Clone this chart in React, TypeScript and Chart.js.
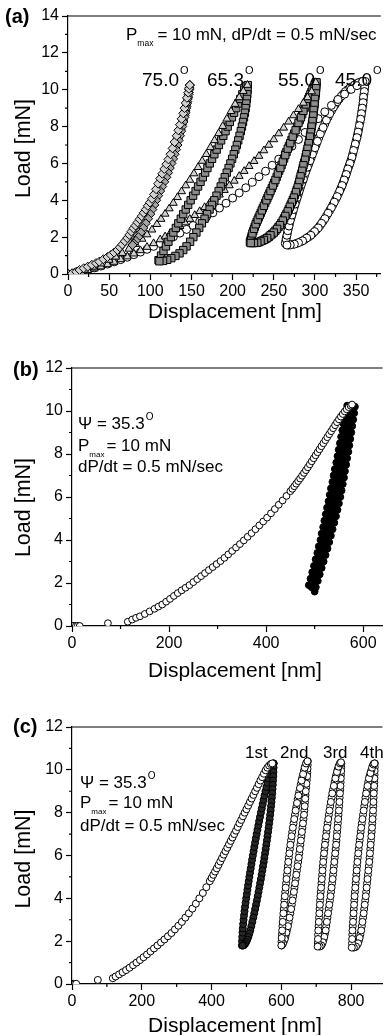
import React, { useEffect, useRef } from "react";
import { Chart, registerables } from "chart.js";

Chart.register(...registerables);

type Pt = [number, number];

const FONT = "'Liberation Sans', Arial, Helvetica, sans-serif";

// ---------------- Panel (a) ----------------
const aXTicks = [0, 50, 100, 150, 200, 250, 300, 350];
const aXMinor = [25, 75, 125, 175, 225, 275, 325, 375];
const aYTicks = [0, 2, 4, 6, 8, 10, 12, 14];
const aYMinor = [1, 3, 5, 7, 9, 11, 13];
const aAngleLabels = ["75.0", "65.3", "55.0", "45.0"];

const a75Load: Pt[] = [[0,0],[5,0.04],[10,0.12],[14,0.22],[19,0.31],[24,0.4],[29,0.5],[34,0.59],[38,0.67],[43,0.8],[48,0.92],[52,1.03],[56,1.16],[60,1.3],[63,1.45],[66,1.6],[69,1.78],[72,1.95],[74.5,2.12],[77,2.3],[79.5,2.48],[82,2.63],[84.5,2.8],[87,2.97],[89.5,3.14],[92,3.32],[94.5,3.5],[97,3.7],[99.5,3.88],[102,4.08],[104.5,4.32],[107,4.6],[109.5,4.9],[112,5.18],[114.5,5.44],[117,5.7],[119.5,5.96],[122,6.22],[124.5,6.5],[127,6.82],[129.5,7.16],[132,7.5],[134,7.8],[136,8.1],[138,8.42],[140,8.72],[141.5,9.0],[143,9.28],[144.5,9.56],[146,9.84],[147,10.05],[148,10.25]];
const a75Unload: Pt[] = [[148,10.25],[147.3,10.0],[146.5,9.75],[145.5,9.5],[144.6,9.25],[143.6,9.0],[142.7,8.75],[141.5,8.5],[140.2,8.25],[138.8,8.0],[137.5,7.75],[136,7.5],[134.5,7.25],[133,7.0],[131.3,6.75],[129.6,6.5],[127.8,6.25],[125.8,6.0],[123.7,5.75],[121.6,5.5],[119.5,5.25],[117,5.0],[114.5,4.75],[112,4.5],[109.5,4.25],[107.2,4.0],[105,3.75],[102.5,3.5],[100,3.25],[97.3,3.0],[94.5,2.75],[91.5,2.5],[88.5,2.25],[85.5,2.0],[82.5,1.8],[80,1.65],[78.5,1.57]];
const a75Reload: Pt[] = [[79,1.62],[81.5,1.85],[84.5,2.1],[87.5,2.35],[90.5,2.6],[93.5,2.85],[96,3.1],[98.5,3.35],[101,3.6],[103.5,3.85],[106,4.1],[108.5,4.35],[111,4.6],[113,4.85],[115.5,5.1],[117.5,5.35],[119.5,5.6],[121.5,5.85],[123.5,6.1],[125.5,6.35],[127.5,6.6],[129.5,6.85],[131.5,7.1],[133.3,7.35],[135,7.6],[136.8,7.85],[138.5,8.1],[140,8.35],[141.5,8.6],[142.8,8.85],[144,9.1],[145,9.35],[146,9.6],[146.8,9.85],[147.5,10.1],[148,10.25]];

const a65Load: Pt[] = [[0,0],[10,0.08],[20,0.22],[30,0.38],[40,0.56],[50,0.76],[58,0.93],[66,1.13],[74,1.36],[82,1.62],[90,1.9],[96,2.14],[102,2.4],[108,2.7],[113,2.98],[118,3.26],[123,3.55],[128,3.85],[133,4.16],[138,4.48],[143,4.8],[148,5.1],[153,5.45],[158,5.79],[163,6.13],[168,6.5],[173,6.87],[178,7.25],[183,7.63],[188,8.02],[193,8.42],[198,8.83],[203,9.22],[208,9.58],[213,9.92],[218,10.25]];
const a65Unload: Pt[] = [[218.5,10.25],[218.2,10.0],[217.8,9.75],[217.3,9.5],[216.6,9.25],[215.8,9.0],[214.9,8.75],[213.8,8.5],[212.6,8.25],[211.3,8.0],[209.9,7.75],[208.4,7.5],[206.8,7.25],[205.1,7.0],[203.3,6.75],[201.4,6.5],[199.4,6.25],[197.3,6.0],[195.1,5.75],[192.8,5.5],[190.4,5.25],[188,5.0],[185.5,4.75],[183,4.5],[180.4,4.25],[177.7,4.0],[174.9,3.75],[172,3.5],[169,3.25],[165.9,3.0],[162.7,2.75],[159.4,2.5],[156,2.25],[152.3,2.0],[148.3,1.75],[144,1.5],[140,1.3],[135.5,1.12],[130.5,0.98],[125.5,0.86],[120.5,0.77],[115.5,0.71],[111,0.69]];
const a65Reload: Pt[] = [[110,0.75],[113,1.0],[116,1.25],[119,1.5],[122,1.75],[125,2.0],[128,2.25],[131,2.5],[134,2.75],[137,3.0],[140,3.25],[143,3.5],[146,3.75],[149,4.0],[152,4.25],[155,4.5],[158,4.75],[161,5.0],[163.8,5.25],[166.6,5.5],[169.4,5.75],[172.2,6.0],[175,6.25],[177.8,6.5],[180.6,6.75],[183.3,7.0],[186,7.25],[188.7,7.5],[191.4,7.75],[194,8.0],[196.6,8.25],[199.2,8.5],[201.8,8.75],[204.3,9.0],[206.8,9.25],[209.3,9.5],[211.8,9.75],[214,10.0],[216.5,10.2]];

const a55Load: Pt[] = [[0,0],[8,0.05],[16,0.11],[24,0.2],[32,0.29],[40,0.4],[48,0.52],[56,0.65],[64,0.79],[72,0.94],[80,1.1],[88,1.28],[96,1.46],[104,1.66],[112,1.87],[118,2.03],[124,2.2],[130,2.4],[136,2.59],[142,2.79],[148,2.98],[154,3.19],[160,3.4],[166,3.62],[172,3.85],[178,4.07],[184,4.3],[190,4.55],[196,4.8],[202,5.05],[208,5.31],[214,5.58],[220,5.85],[226,6.12],[232,6.4],[238,6.7],[244,7.0],[250,7.3],[256,7.62],[262,7.93],[268,8.26],[274,8.6],[280,8.94],[286,9.28],[291,9.58],[296,9.9],[301,10.4]];
const a55Unload: Pt[] = [[302,10.4],[301.5,10.1],[301,9.8],[300,9.5],[299.5,9.2],[298.5,8.9],[298,8.6],[297,8.3],[296,8.0],[295,7.7],[294,7.45],[292.5,7.1],[291,6.8],[289.5,6.5],[288,6.2],[286,5.9],[284.5,5.6],[282.5,5.3],[281,5.0],[279,4.7],[277,4.45],[274.5,4.15],[272,3.9],[269.5,3.65],[267,3.4],[264,3.15],[261,2.9],[257.5,2.65],[254,2.45],[250,2.25],[246,2.1],[242,1.95],[238,1.85],[234,1.77],[230,1.7],[226,1.68],[222,1.68]];
const a55UnloadB: Pt[] = [[301.7,10.25],[301.2,9.95],[300.5,9.65],[299.7,9.35],[299,9.05],[298.2,8.75],[297.5,8.45],[296.5,8.15],[295.5,7.85],[294.5,7.57],[293.2,7.27],[291.7,6.95],[290.2,6.65],[288.7,6.35],[287,6.05],[285.2,5.75],[283.5,5.45],[281.7,5.15],[280,4.85],[278,4.57],[275.7,4.3],[273.2,4.02],[270.7,3.77],[268.2,3.52],[265.5,3.27],[262.5,3.02],[259.2,2.77],[255.7,2.55],[252,2.35],[248,2.17],[244,2.02],[240,1.9],[236,1.81],[232,1.73],[228,1.69],[224,1.68]];
const a55Reload: Pt[] = [[221,1.72],[222.5,1.95],[224,2.2],[226,2.45],[228,2.7],[230.5,2.95],[233,3.2],[235.5,3.45],[238,3.7],[241,4.0],[243.5,4.25],[246,4.5],[249,4.8],[252,5.1],[255,5.45],[258,5.75],[261,6.1],[264,6.45],[267,6.8],[270,7.1],[273,7.45],[276.5,7.8],[280,8.2],[283,8.5],[286,8.85],[289,9.2],[292,9.5],[294.5,9.75],[297,10.0],[299.5,10.25],[301,10.4]];
const a55ReloadB: Pt[] = [[221.7,1.83],[223.2,2.07],[225,2.32],[227,2.57],[229.2,2.82],[231.7,3.07],[234.2,3.32],[236.7,3.57],[239.5,3.85],[242.2,4.12],[244.7,4.37],[247.5,4.65],[250.5,4.95],[253.5,5.27],[256.5,5.6],[259.5,5.92],[262.5,6.27],[265.5,6.62],[268.5,6.95],[271.5,7.27],[274.7,7.62],[278.2,8.0],[281.5,8.35],[284.5,8.67],[287.5,9.02],[290.5,9.35],[293.2,9.62],[295.7,9.87],[298.2,10.12],[300.2,10.32]];

const a45Load: Pt[] = [[0,0],[8,0.06],[16,0.14],[24,0.23],[32,0.33],[40,0.43],[48,0.54],[56,0.66],[64,0.78],[72,0.91],[80,1.05],[88,1.19],[96,1.34],[104,1.5],[112,1.66],[120,1.84],[128,2.02],[136,2.22],[144,2.42],[152,2.63],[160,2.85],[168,3.08],[176,3.32],[184,3.58],[192,3.84],[200,4.12],[208,4.4],[216,4.68],[224,4.98],[232,5.28],[240,5.58],[248,5.9],[256,6.23],[264,6.58],[272,6.93],[280,7.3],[288,7.68],[296,8.06],[304,8.43],[312,8.8],[320,9.15],[328,9.47],[336,9.76],[344,10.02],[351,10.22],[358,10.45]];
const a45Unload: Pt[] = [[361,10.45],[360.5,10.15],[360,9.9],[359,9.6],[358.5,9.3],[357.5,9.0],[356.5,8.7],[355.5,8.4],[354,8.05],[352.5,7.7],[351,7.4],[349,7.05],[347,6.7],[345,6.35],[342.5,6.0],[340,5.7],[338,5.4],[335.5,5.1],[333,4.8],[330,4.5],[327,4.2],[323.5,3.9],[320,3.6],[316,3.3],[312,3.0],[308,2.75],[304,2.5],[299.5,2.3],[295,2.1],[290,1.95],[285,1.8],[280,1.7],[275,1.62],[270,1.58],[266,1.57]];
const a45UnloadB: Pt[] = [[360.7,10.3],[360.2,10.02],[359.5,9.75],[358.7,9.45],[358,9.15],[357,8.85],[356,8.55],[354.7,8.22],[353.2,7.87],[351.7,7.55],[350,7.22],[348,6.87],[346,6.52],[343.7,6.17],[341.2,5.85],[339,5.55],[336.7,5.25],[334.2,4.95],[331.5,4.65],[328.5,4.35],[325.2,4.05],[321.7,3.75],[318,3.45],[314,3.15],[310,2.87],[306,2.62],[301.7,2.4],[297.2,2.2],[292.5,2.02],[287.5,1.87],[282.5,1.75],[277.5,1.66],[272.5,1.6],[268,1.57]];
const a45Reload: Pt[] = [[264,1.65],[265,1.9],[266,2.1],[267,2.35],[268.5,2.6],[270,2.9],[272,3.2],[274,3.5],[276,3.8],[278.5,4.15],[281,4.5],[283.5,4.85],[286,5.15],[288.5,5.5],[291,5.8],[294,6.15],[297,6.5],[300,6.85],[303,7.2],[306.5,7.6],[310,7.95],[314,8.35],[318,8.7],[322.5,9.05],[327,9.35],[332,9.65],[337,9.9],[342.5,10.1],[348,10.25],[353,10.38],[358,10.45]];
const a45ReloadB: Pt[] = [[264.5,1.77],[265.5,2.0],[266.5,2.22],[267.7,2.47],[269.2,2.75],[271,3.05],[273,3.35],[275,3.65],[277.2,3.97],[279.7,4.32],[282.2,4.67],[284.7,5.0],[287.2,5.32],[289.7,5.65],[292.5,5.97],[295.5,6.32],[298.5,6.67],[301.5,7.02],[304.7,7.4],[308.2,7.77],[312,8.15],[316,8.52],[320.2,8.87],[324.7,9.2],[329.5,9.5],[334.5,9.77],[339.7,10.0],[345.2,10.17],[350.5,10.31],[355.5,10.42]];

// ---------------- Panel (b) ----------------
const bXTicks = [0, 200, 400, 600];
const bXMinor = [100, 300, 500];
const bYTicks = [0, 2, 4, 6, 8, 10, 12];
const bYMinor = [1, 3, 5, 7, 9, 11];

const bLoad: Pt[] = [[0,0],[4,0.01],[8,0],[12,0.01],[16,0],[74,0.13],[115,0.2],[124,0.3],[132,0.38],[140,0.45],[150,0.56],[160,0.68],[170,0.8],[178,0.9],[186,1.0],[194,1.13],[202,1.26],[210,1.4],[218,1.53],[226,1.66],[234,1.78],[242,1.9],[250,2.04],[258,2.18],[266,2.32],[274,2.46],[282,2.6],[290,2.74],[298,2.88],[306,3.02],[314,3.17],[322,3.33],[330,3.49],[338,3.65],[346,3.81],[354,3.98],[362,4.15],[370,4.32],[378,4.5],[386,4.68],[394,4.86],[402,5.04],[410,5.24],[418,5.44],[426,5.64],[434,5.84],[442,6.05],[450,6.27],[454,6.38],[458,6.5],[462,6.62],[466,6.74],[470,6.86],[474,6.99],[478,7.12],[482,7.25],[486,7.38],[490,7.52],[494,7.66],[498,7.8],[502,7.94],[506,8.08],[510,8.22],[514,8.36],[518,8.5],[522,8.64],[526,8.78],[530,8.92],[534,9.06],[538,9.2],[542,9.34],[546,9.48],[550,9.61],[554,9.74],[558,9.86],[562,9.98],[566,10.08],[570,10.18],[574,10.25],[577,10.3]];
const bUnloadOuter: Pt[] = [[583,10.2],[581.5,9.9],[579.5,9.6],[577.5,9.3],[575.5,9.0],[573.5,8.7],[571.5,8.4],[569.5,8.1],[567,7.8],[565,7.5],[562.5,7.2],[560.5,6.9],[558,6.6],[555.5,6.3],[553,6.0],[550,5.7],[547,5.4],[544,5.1],[540.5,4.8],[537,4.5],[533.5,4.2],[530,3.9],[526.5,3.6],[522.5,3.3],[518.5,3.0],[514.5,2.7],[510.5,2.4],[506.5,2.1],[502.5,1.8],[500,1.6]];
const bUnloadInner: Pt[] = [[578,10.2],[576.5,9.9],[574.5,9.6],[572.5,9.3],[570.5,9.0],[568,8.7],[566,8.4],[563.5,8.1],[561,7.8],[558.5,7.5],[556,7.2],[553.5,6.9],[551,6.6],[548.5,6.3],[546,6.0],[543,5.7],[540,5.4],[537,5.1],[534,4.8],[530.5,4.5],[527,4.2],[523.5,3.9],[520,3.6],[516,3.3],[512,3.0],[508,2.7],[504,2.4],[500,2.1],[496,1.85]];
const bReloadOuter: Pt[] = [[488,1.9],[491.5,2.2],[495,2.5],[498.5,2.8],[502,3.1],[505.5,3.4],[508.5,3.7],[512,4.0],[514.5,4.3],[517.5,4.6],[520,4.9],[523,5.2],[525.5,5.5],[528.5,5.8],[531,6.1],[533.5,6.4],[536.5,6.7],[539,7.0],[541.5,7.3],[544.5,7.6],[547,7.9],[549.5,8.2],[552,8.5],[554.5,8.8],[557,9.1],[559.5,9.4],[562,9.7],[564,10.0],[567,10.25]];
const bReloadInner: Pt[] = [[494,1.8],[497.5,2.1],[501,2.4],[504.5,2.7],[508,3.0],[511.5,3.3],[514.5,3.6],[518,3.9],[521,4.2],[524,4.5],[527,4.8],[530,5.1],[532.5,5.4],[535.5,5.7],[538,6.0],[541,6.3],[543.5,6.6],[546,6.9],[548.5,7.2],[551,7.5],[553.5,7.8],[556,8.1],[558.5,8.4],[561,8.7],[563.5,9.0],[566,9.3],[568.5,9.6],[571,9.9],[574,10.2]];

// ---------------- Panel (c) ----------------
const cXTicks = [0, 200, 400, 600, 800];
const cXMinor = [100, 300, 500, 700];
const cYTicks = [0, 2, 4, 6, 8, 10, 12];
const cYMinor = [1, 3, 5, 7, 9, 11];
const cCycleLabels = ["1st", "2nd", "3rd", "4th"];

const cLoad: Pt[] = [[0,0],[4,0.01],[8,0],[12,0.01],[74,0.19],[117,0.27],[125,0.35],[135,0.45],[145,0.55],[155,0.65],[165,0.76],[175,0.88],[185,1.0],[195,1.12],[205,1.25],[215,1.38],[225,1.52],[235,1.66],[245,1.8],[255,1.94],[265,2.08],[275,2.23],[285,2.38],[295,2.55],[305,2.72],[315,2.9],[325,3.1],[335,3.3],[345,3.52],[355,3.75],[365,4.0],[375,4.25],[385,4.52],[395,4.8],[400,4.95],[405,5.1],[410,5.25],[415,5.4],[420,5.56],[425,5.72],[430,5.88],[435,6.04],[440,6.2],[445,6.36],[450,6.52],[455,6.68],[460,6.84],[465,7.0],[470,7.16],[475,7.33],[480,7.5],[485,7.66],[490,7.83],[495,8.0],[500,8.16],[505,8.33],[510,8.5],[515,8.66],[520,8.83],[525,9.0],[530,9.16],[535,9.33],[540,9.5],[545,9.66],[550,9.82],[555,9.98],[560,10.1],[565,10.2],[570,10.27],[574,10.3]];
const c1Unload: Pt[] = [[578,10.3],[577.8,10.1],[577.4,9.9],[576.9,9.7],[576.3,9.5],[575.6,9.3],[574.8,9.1],[573.9,8.9],[572.9,8.7],[571.8,8.5],[570.6,8.3],[569.3,8.1],[568,7.9],[566.6,7.7],[565.1,7.5],[563.6,7.3],[562,7.1],[560.4,6.9],[558.7,6.7],[557,6.5],[555.2,6.3],[553.4,6.1],[551.5,5.9],[549.6,5.7],[547.6,5.5],[545.6,5.3],[543.5,5.1],[541.4,4.9],[539.2,4.7],[537,4.5],[534.7,4.3],[532.4,4.1],[530,3.9],[527.5,3.7],[525,3.5],[522.4,3.3],[519.7,3.1],[516.9,2.9],[514,2.7],[511,2.5],[508.3,2.35],[505.5,2.2],[502.5,2.07],[499.3,1.96],[496,1.87],[492.5,1.81],[489,1.79]];
const c1Reload: Pt[] = [[487,1.8],[487.4,2.0],[488,2.2],[488.7,2.4],[489.6,2.6],[490.6,2.8],[491.8,3.0],[493.1,3.2],[494.5,3.4],[496,3.6],[497.6,3.8],[499.3,4.0],[501,4.2],[502.8,4.4],[504.6,4.6],[506.5,4.8],[508.4,5.0],[510.3,5.2],[512.3,5.4],[514.3,5.6],[516.3,5.8],[518.4,6.0],[520.5,6.2],[522.6,6.4],[524.8,6.6],[527,6.8],[529.3,7.0],[531.6,7.2],[534,7.4],[536.4,7.6],[538.9,7.8],[541.4,8.0],[544,8.2],[546.6,8.4],[549.2,8.6],[551.9,8.8],[554.6,9.0],[557.4,9.2],[560.2,9.4],[563,9.6],[566,9.8],[569,9.95],[572,10.1],[575,10.2],[578,10.3]];
const c2Reload: Pt[] = [[600,1.8],[601,2.15],[602.5,2.5],[604,2.9],[606,3.3],[608,3.7],[610,4.1],[612.5,4.5],[615,4.9],[617.5,5.3],[620,5.7],[623,6.1],[626,6.5],[629.5,6.9],[633,7.3],[637,7.7],[641,8.1],[645,8.45],[649,8.8],[653.5,9.15],[658,9.5],[662.5,9.8],[667,10.1],[671,10.3],[675,10.4]];
const c2ReloadB: Pt[] = [[600.5,1.97],[601.7,2.32],[603.2,2.7],[605,3.1],[607,3.5],[609,3.9],[611.2,4.3],[613.7,4.7],[616.2,5.1],[618.7,5.5],[621.5,5.9],[624.5,6.3],[627.7,6.7],[631.2,7.1],[635,7.5],[639,7.9],[643,8.27],[647,8.62],[651.2,8.97],[655.7,9.32],[660.2,9.65],[664.7,9.95],[669,10.2],[673,10.35]];
const c2Unload: Pt[] = [[676,10.4],[675,10.05],[674,9.7],[672,9.35],[670,9.0],[668.5,8.65],[667,8.3],[665,7.9],[662,7.5],[659,7.1],[656,6.7],[653,6.3],[650,5.9],[646.5,5.5],[643,5.1],[639.5,4.7],[636,4.3],[632,3.9],[628,3.5],[623.5,3.1],[619,2.7],[614.5,2.4],[610,2.1],[605,1.9],[601,1.8]];
const c2UnloadB: Pt[] = [[675.5,10.22],[674.5,9.87],[673,9.52],[671,9.17],[669.2,8.82],[667.7,8.47],[666,8.1],[663.5,7.7],[660.5,7.3],[657.5,6.9],[654.5,6.5],[651.5,6.1],[648.2,5.7],[644.7,5.3],[641.2,4.9],[637.7,4.5],[634,4.1],[630,3.7],[625.7,3.3],[621.2,2.9],[616.7,2.55],[612.2,2.25],[607.5,2.0],[603,1.85]];
const c3Reload: Pt[] = [[704,1.75],[705,2.1],[706,2.5],[707.5,2.9],[709,3.3],[710.5,3.7],[712,4.1],[714,4.5],[716,4.9],[718,5.3],[720,5.7],[722.5,6.1],[725,6.5],[728,6.9],[731,7.3],[734.5,7.7],[738,8.1],[742,8.5],[746,8.9],[750.5,9.25],[755,9.6],[759.5,9.9],[764,10.15],[768,10.3],[771,10.35]];
const c3ReloadB: Pt[] = [[704.5,1.92],[705.5,2.3],[706.7,2.7],[708.2,3.1],[709.7,3.5],[711.2,3.9],[713,4.3],[715,4.7],[717,5.1],[719,5.5],[721.2,5.9],[723.7,6.3],[726.5,6.7],[729.5,7.1],[732.7,7.5],[736.2,7.9],[740,8.3],[744,8.7],[748.2,9.07],[752.7,9.42],[757.2,9.75],[761.7,10.02],[766,10.22],[769.5,10.33]];
const c3Unload: Pt[] = [[772,10.3],[771.5,9.95],[770.5,9.6],[769.5,9.25],[768,8.9],[766.5,8.5],[765,8.1],[763,7.7],[761,7.3],[759,6.9],[757,6.5],[754.5,6.1],[752,5.7],[749.5,5.3],[747,4.9],[744,4.5],[741,4.1],[737.5,3.7],[734,3.3],[730.5,2.9],[727,2.5],[723,2.2],[719,1.95],[714.5,1.8],[710,1.75]];
const c3UnloadB: Pt[] = [[771.7,10.12],[771,9.77],[770,9.42],[768.7,9.07],[767.2,8.7],[765.7,8.3],[764,7.9],[762,7.5],[760,7.1],[758,6.7],[755.7,6.3],[753.2,5.9],[750.7,5.5],[748.2,5.1],[745.5,4.7],[742.5,4.3],[739.2,3.9],[735.7,3.5],[732.2,3.1],[728.7,2.7],[725,2.35],[721,2.07],[716.7,1.87],[712.2,1.77]];
const c4Reload: Pt[] = [[802,1.7],[803,2.1],[804,2.5],[805.5,2.9],[807,3.3],[808.5,3.7],[810,4.1],[812,4.5],[814,4.9],[816,5.3],[818,5.7],[820.5,6.1],[823,6.5],[826,6.9],[829,7.3],[832.5,7.7],[836,8.1],[839.5,8.5],[843,8.9],[847,9.25],[851,9.6],[855.5,9.85],[860,10.1],[864,10.25],[867,10.3]];
const c4ReloadB: Pt[] = [[802.5,1.9],[803.5,2.3],[804.7,2.7],[806.2,3.1],[807.7,3.5],[809.2,3.9],[811,4.3],[813,4.7],[815,5.1],[817,5.5],[819.2,5.9],[821.7,6.3],[824.5,6.7],[827.5,7.1],[830.7,7.5],[834.2,7.9],[837.7,8.3],[841.2,8.7],[845,9.07],[849,9.42],[853.2,9.72],[857.7,9.97],[862,10.18],[865.5,10.28]];
const c4Unload: Pt[] = [[868,10.3],[867.5,9.95],[867,9.6],[866,9.25],[865,8.9],[864,8.5],[863,8.1],[861.5,7.7],[860,7.3],[858,6.9],[856,6.5],[854,6.1],[852,5.7],[849.5,5.3],[847,4.9],[844.5,4.5],[842,4.1],[839,3.7],[836,3.3],[832.5,2.9],[829,2.5],[824.5,2.15],[820,1.9],[814,1.75],[808,1.7]];
const c4UnloadB: Pt[] = [[867.7,10.12],[867.2,9.77],[866.5,9.42],[865.5,9.07],[864.5,8.7],[863.5,8.3],[862.2,7.9],[860.7,7.5],[859,7.1],[857,6.7],[855,6.3],[853,5.9],[850.7,5.5],[848.2,5.1],[845.7,4.7],[843.2,4.3],[840.5,3.9],[837.5,3.5],[834.2,3.1],[830.7,2.7],[826.7,2.32],[822.2,2.02],[817,1.82],[811,1.72]];

// ---------------- layout / styling ----------------
interface Series { pts: Pt[]; shape: string; r: number; fill: string }
interface Run { t: string; size: number; bold?: boolean; dx?: number; dy?: number }
interface Label { x: number; y: number; runs: Run[] }
interface PanelSpec {
  key: string; top: number; height: number; plotTop: number; plotBottom: number; yAxisW: number;
  xMax: number; yMax: number; xTicks: number[]; xMinor: number[]; yTicks: number[]; yMinor: number[];
  xTitleBaseline: number; yTitleCenter: number; series: Series[]; labels: Label[];
}

const WHITE = "#ffffff";
const LIGHT = "#d2d2d2";
const MID = "#a4a4a4";
const DIM = "#8c8c8c";
const DARK = "#262626";
const BLACK = "#000000";

const psiRuns = (): Run[] => [{ t: "\u03A8 = 35.3", size: 17 }, { t: "O", size: 10, dx: 1, dy: -9 }];
const angleRuns = (t: string): Run[] => [{ t, size: 19 }, { t: "O", size: 11, dx: 1, dy: -12.5 }];

const panels: PanelSpec[] = [
  {
    key: "a", top: 0, height: 330, plotTop: 16, plotBottom: 274, yAxisW: 68,
    xMax: 380, yMax: 14, xTicks: aXTicks, xMinor: aXMinor, yTicks: aYTicks, yMinor: aYMinor,
    xTitleBaseline: 318, yTitleCenter: 148.5,
    series: [
      { pts: a75Load, shape: "rectRot", r: 4.5, fill: LIGHT },
      { pts: a75Unload, shape: "rectRot", r: 4.5, fill: MID },
      { pts: a75Reload, shape: "rectRot", r: 4.5, fill: MID },
      { pts: a65Load, shape: "triangle", r: 4.5, fill: LIGHT },
      { pts: a65Unload, shape: "rect", r: 5.2, fill: DIM },
      { pts: a65Reload, shape: "rect", r: 5.2, fill: DIM },
      { pts: a55Load, shape: "triangle", r: 4.5, fill: LIGHT },
      { pts: a55Unload, shape: "rect", r: 5.2, fill: DIM },
      { pts: a55UnloadB, shape: "rect", r: 5.2, fill: DIM },
      { pts: a55Reload, shape: "rect", r: 5.2, fill: DIM },
      { pts: a55ReloadB, shape: "rect", r: 5.2, fill: DIM },
      { pts: a45Load, shape: "circle", r: 4, fill: WHITE },
      { pts: a45Unload, shape: "circle", r: 4, fill: WHITE },
      { pts: a45UnloadB, shape: "circle", r: 4, fill: WHITE },
      { pts: a45Reload, shape: "circle", r: 4, fill: WHITE },
      { pts: a45ReloadB, shape: "circle", r: 4, fill: WHITE },
    ],
    labels: [
      { x: 5, y: 23, runs: [{ t: "(a)", size: 20, bold: true }] },
      { x: 126, y: 40, runs: [{ t: "P", size: 17 }, { t: "max", size: 8.5, dy: 6 }, { t: "= 10 mN, dP/dt = 0.5 mN/sec", size: 17, dx: 4 }] },
      { x: 142, y: 86, runs: angleRuns(aAngleLabels[0]) },
      { x: 207, y: 86, runs: angleRuns(aAngleLabels[1]) },
      { x: 278, y: 86, runs: angleRuns(aAngleLabels[2]) },
      { x: 335, y: 86, runs: angleRuns(aAngleLabels[3]) },
    ],
  },
  {
    key: "b", top: 335, height: 355, plotTop: 33, plotBottom: 291, yAxisW: 72,
    xMax: 640, yMax: 12, xTicks: bXTicks, xMinor: bXMinor, yTicks: bYTicks, yMinor: bYMinor,
    xTitleBaseline: 342, yTitleCenter: 172.5,
    series: [
      { pts: bLoad, shape: "circle", r: 3.4, fill: WHITE },
      { pts: bUnloadOuter, shape: "circle", r: 3.4, fill: BLACK },
      { pts: bUnloadInner, shape: "circle", r: 3.4, fill: BLACK },
      { pts: bReloadOuter, shape: "circle", r: 3.4, fill: BLACK },
      { pts: bReloadInner, shape: "circle", r: 3.4, fill: BLACK },
    ],
    labels: [
      { x: 13, y: 41, runs: [{ t: "(b)", size: 20, bold: true }] },
      { x: 78, y: 94, runs: psiRuns() },
      { x: 78, y: 115.5, runs: [{ t: "P", size: 17 }, { t: "max", size: 8, dy: 6 }, { t: "= 10 mN", size: 17, dx: 2 }] },
      { x: 78, y: 137, runs: [{ t: "dP/dt = 0.5 mN/sec", size: 17 }] },
    ],
  },
  {
    key: "c", top: 690, height: 345, plotTop: 37, plotBottom: 294, yAxisW: 72,
    xMax: 890, yMax: 12, xTicks: cXTicks, xMinor: cXMinor, yTicks: cYTicks, yMinor: cYMinor,
    xTitleBaseline: 341.5, yTitleCenter: 169,
    series: [
      { pts: cLoad, shape: "circle", r: 3.5, fill: WHITE },
      { pts: c1Unload, shape: "circle", r: 3.5, fill: DARK },
      { pts: c1Reload, shape: "circle", r: 3.5, fill: DARK },
      { pts: c2Reload, shape: "circle", r: 3.5, fill: WHITE },
      { pts: c2ReloadB, shape: "circle", r: 3.5, fill: WHITE },
      { pts: c2Unload, shape: "circle", r: 3.5, fill: WHITE },
      { pts: c2UnloadB, shape: "circle", r: 3.5, fill: WHITE },
      { pts: c3Reload, shape: "circle", r: 3.5, fill: WHITE },
      { pts: c3ReloadB, shape: "circle", r: 3.5, fill: WHITE },
      { pts: c3Unload, shape: "circle", r: 3.5, fill: WHITE },
      { pts: c3UnloadB, shape: "circle", r: 3.5, fill: WHITE },
      { pts: c4Reload, shape: "circle", r: 3.5, fill: WHITE },
      { pts: c4ReloadB, shape: "circle", r: 3.5, fill: WHITE },
      { pts: c4Unload, shape: "circle", r: 3.5, fill: WHITE },
      { pts: c4UnloadB, shape: "circle", r: 3.5, fill: WHITE },
    ],
    labels: [
      { x: 13, y: 43, runs: [{ t: "(c)", size: 20, bold: true }] },
      { x: 80, y: 98, runs: psiRuns() },
      { x: 80, y: 118, runs: [{ t: "P", size: 17 }, { t: "max", size: 8, dy: 6 }, { t: "= 10 mN", size: 17, dx: 2 }] },
      { x: 80, y: 140.5, runs: [{ t: "dP/dt = 0.5 mN/sec", size: 17 }] },
      { x: 245, y: 68, runs: [{ t: cCycleLabels[0], size: 17 }] },
      { x: 280, y: 68, runs: [{ t: cCycleLabels[1], size: 17 }] },
      { x: 323, y: 68, runs: [{ t: cCycleLabels[2], size: 17 }] },
      { x: 360, y: 68, runs: [{ t: cCycleLabels[3], size: 17 }] },
    ],
  },
];

function decorPlugin(p: PanelSpec) {
  return {
    id: "decor" + p.key,
    afterDraw(chart: any) {
      const ctx: CanvasRenderingContext2D = chart.ctx;
      const ca = chart.chartArea;
      const xs = chart.scales.x;
      const ys = chart.scales.y;
      ctx.save();
      ctx.strokeStyle = "#000";
      ctx.lineWidth = 1.2;
      ctx.beginPath();
      ctx.moveTo(ca.left - 0.6, ca.top);
      ctx.lineTo(ca.right, ca.top);
      for (const v of p.yMinor) {
        const y = ys.getPixelForValue(v);
        ctx.moveTo(ca.left - 3, y);
        ctx.lineTo(ca.left, y);
      }
      for (const v of p.xMinor) {
        const x = xs.getPixelForValue(v);
        if (x > ca.right) continue;
        ctx.moveTo(x, ca.bottom);
        ctx.lineTo(x, ca.bottom + 3);
      }
      ctx.stroke();

      ctx.fillStyle = "#000";
      ctx.textBaseline = "alphabetic";
      ctx.textAlign = "left";
      for (const lab of p.labels) {
        let x = lab.x;
        for (const r of lab.runs) {
          ctx.font = `${r.bold ? "bold " : ""}${r.size}px ${FONT}`;
          x += r.dx || 0;
          ctx.fillText(r.t, x, lab.y + (r.dy || 0));
          x += ctx.measureText(r.t).width;
        }
      }
      ctx.font = `21px ${FONT}`;
      ctx.textAlign = "center";
      ctx.fillText("Displacement [nm]", 235, p.xTitleBaseline);
      ctx.save();
      ctx.translate(24.5, p.yTitleCenter);
      ctx.rotate(-Math.PI / 2);
      ctx.textBaseline = "middle";
      ctx.font = `21.5px ${FONT}`;
      ctx.fillText("Load [mN]", 0, 0);
      ctx.restore();
      ctx.restore();
    },
  };
}

function makeConfig(p: PanelSpec): any {
  const axisCommon = {
    type: "linear",
    min: 0,
    grid: { display: true, drawOnChartArea: false, drawTicks: true, tickLength: 6, tickColor: "#000", tickWidth: 1.2 },
    border: { display: true, color: "#000", width: 1.2 },
    title: { display: false },
  };
  return {
    type: "scatter",
    data: {
      datasets: p.series.map((s) => ({
        data: s.pts.map(([x, y]) => ({ x, y })),
        pointStyle: s.shape,
        pointRadius: s.r,
        pointHoverRadius: s.r,
        pointBorderWidth: 1,
        pointBorderColor: "#000",
        pointBackgroundColor: s.fill,
        showLine: false,
      })),
    },
    options: {
      responsive: false,
      animation: false,
      devicePixelRatio: 1,
      events: [],
      layout: { padding: { top: p.plotTop, bottom: 0, left: 0, right: 0 } },
      plugins: { legend: { display: false }, tooltip: { enabled: false } },
      scales: {
        x: {
          ...axisCommon,
          position: "bottom",
          max: p.xMax,
          afterBuildTicks: (s: any) => { s.ticks = p.xTicks.map((v) => ({ value: v })); },
          afterFit: (s: any) => { s.height = p.height - p.plotBottom; },
          ticks: { color: "#000", font: { family: FONT, size: 16 }, padding: 2, maxRotation: 0, autoSkip: false },
        },
        y: {
          ...axisCommon,
          position: "left",
          max: p.yMax,
          afterBuildTicks: (s: any) => { s.ticks = p.yTicks.map((v) => ({ value: v })); },
          afterFit: (s: any) => { s.width = p.yAxisW; },
          ticks: { color: "#000", font: { family: FONT, size: 16 }, padding: 3, autoSkip: false },
        },
      },
    },
    plugins: [decorPlugin(p)],
  };
}

function Panel({ spec }: { spec: PanelSpec }) {
  const ref = useRef<HTMLCanvasElement>(null);
  useEffect(() => {
    const chart = new Chart(ref.current as HTMLCanvasElement, makeConfig(spec));
    return () => chart.destroy();
  }, [spec]);
  return (
    <canvas
      ref={ref}
      width={387}
      height={spec.height}
      style={{ position: "absolute", left: 0, top: spec.top, width: 387, height: spec.height }}
    />
  );
}

export default function App() {
  return (
    <div style={{ position: "absolute", left: 0, top: 0, width: 387, height: 1035, overflow: "hidden", background: "#fff" }}>
      {panels.map((p) => (
        <Panel key={p.key} spec={p} />
      ))}
    </div>
  );
}
